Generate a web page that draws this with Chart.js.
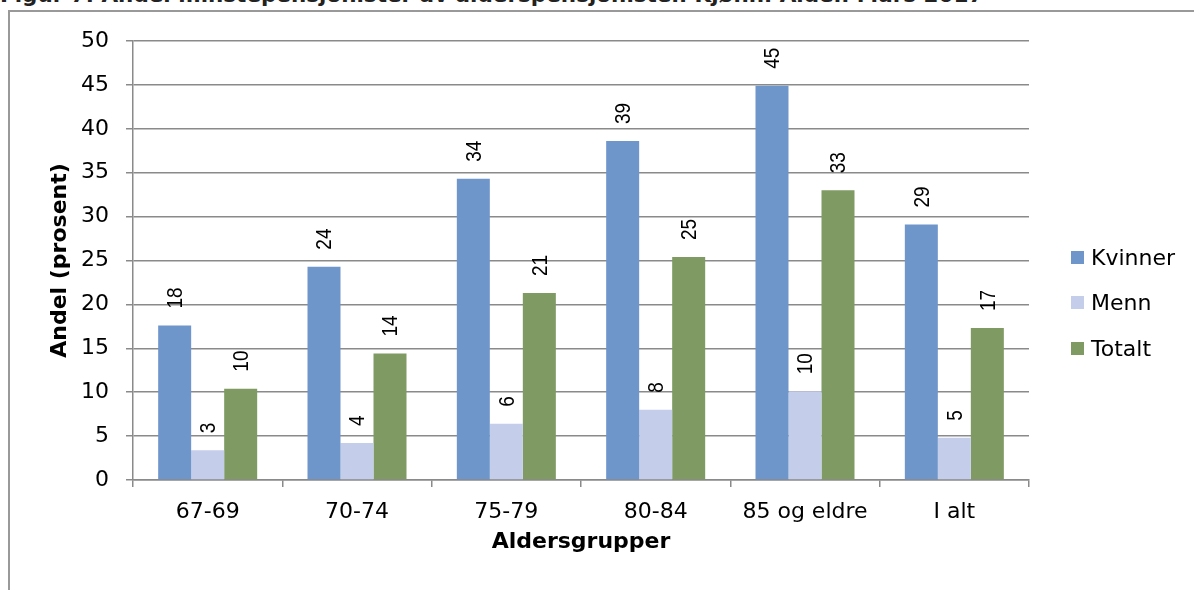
<!DOCTYPE html>
<html>
<head>
<meta charset="utf-8">
<script src="https://cdn.jsdelivr.net/npm/chart.js@4/dist/chart.umd.min.js"></script>
<style>
  html, body { margin: 0; padding: 0; background: #fff; }
  #wrap { position: relative; width: 1194px; height: 590px; overflow: hidden; }
  #fig { position: absolute; left: 0; top: -16px; font: bold 21.5px/22px "DejaVu Sans", sans-serif; color: #222; white-space: nowrap; }
  #frame { position: absolute; left: 8px; top: 10px; width: 1300px; height: 700px; border: 2px solid #999; box-sizing: border-box; }
  #chart { position: absolute; left: 0; top: 0; }
</style>
</head>
<body>
<div id="wrap">
  <div id="fig">Figur 7. Andel minstepensjonister av alderspensjonister. Kjønn. Alder. Mars 2017</div>
  <div id="frame"></div>
  <canvas id="chart" width="1194" height="590"></canvas>
</div>
<script>
// Data
const categories = ['67-69', '70-74', '75-79', '80-84', '85 og eldre', 'I alt'];
const kvinner = [17.6, 24.3, 34.3, 38.6, 44.9, 29.1];
const menn = [3.4, 4.2, 6.4, 8.0, 10.1, 4.8];
const totalt = [10.4, 14.4, 21.3, 25.4, 33.0, 17.3];
const seriesNames = ['Kvinner', 'Menn', 'Totalt'];
const seriesColors = ['#6f96cb', '#c4cde9', '#7f9a62'];

const FONT = '"DejaVu Sans", sans-serif';
const GRID = '#8a8a8a';

// rotated value labels above each bar (slightly widened like the source)
const valueLabels = {
  id: 'valueLabels',
  afterDatasetsDraw(chart) {
    const ctx = chart.ctx;
    ctx.save();
    ctx.font = '19px "Liberation Sans", Arial, sans-serif';
    ctx.fillStyle = '#000';
    ctx.textAlign = 'left';
    ctx.textBaseline = 'middle';
    chart.data.datasets.forEach((ds, i) => {
      chart.getDatasetMeta(i).data.forEach((bar, j) => {
        ctx.save();
        ctx.translate(bar.x, bar.y - 17);
        ctx.rotate(-Math.PI / 2);
        ctx.scale(1, 1.2);
        ctx.fillText(String(Math.round(ds.data[j])), 0, 1);
        ctx.restore();
      });
    });
    ctx.restore();
  }
};

// legend drawn at the right, like the original
const sideLegend = {
  id: 'sideLegend',
  afterDraw(chart) {
    const ctx = chart.ctx;
    const ys = [258, 303, 349];
    ctx.save();
    ctx.font = '22px ' + FONT;
    ctx.textBaseline = 'middle';
    chart.data.datasets.forEach((ds, i) => {
      ctx.fillStyle = ds.backgroundColor;
      ctx.fillRect(1071, ys[i] - 7, 13, 13);
      ctx.fillStyle = '#000';
      ctx.fillText(ds.label, 1091, ys[i] + 1);
    });
    ctx.restore();
  }
};

const ctx = document.getElementById('chart').getContext('2d');
new Chart(ctx, {
  type: 'bar',
  data: {
    labels: categories,
    datasets: [
      { label: seriesNames[0], data: kvinner, backgroundColor: seriesColors[0] },
      { label: seriesNames[1], data: menn, backgroundColor: seriesColors[1] },
      { label: seriesNames[2], data: totalt, backgroundColor: seriesColors[2] }
    ]
  },
  options: {
    responsive: false,
    animation: false,
    devicePixelRatio: 1,
    categoryPercentage: 0.663,
    barPercentage: 1,
    layout: { padding: { left: 0, top: 41, right: 165, bottom: 0 } },
    plugins: { legend: { display: false }, tooltip: { enabled: false } },
    scales: {
      x: {
        afterFit: s => { s.height = 110; },
        grid: { drawOnChartArea: false, drawTicks: true, tickLength: 7, color: GRID, lineWidth: 1.5, offset: true },
        border: { display: true, color: GRID, width: 1.5 },
        ticks: { font: { family: FONT, size: 22 }, color: '#000', padding: 12, maxRotation: 0 },
        title: { display: true, text: 'Aldersgrupper', font: { family: FONT, size: 22, weight: 'bold' }, color: '#000', padding: { top: 0, bottom: 35 } }
      },
      y: {
        min: 0,
        max: 50,
        afterFit: s => { s.width = 133; },
        grid: { color: GRID, lineWidth: 1.5, tickLength: 7, drawTicks: true },
        border: { display: true, color: GRID, width: 1.5 },
        ticks: { stepSize: 5, font: { family: FONT, size: 22 }, color: '#000', padding: 17 },
        title: { display: true, text: 'Andel (prosent)', font: { family: FONT, size: 22, weight: 'bold' }, color: '#000', padding: { top: 47, bottom: 0 } }
      }
    }
  },
  plugins: [valueLabels, sideLegend]
});
</script>
</body>
</html>
